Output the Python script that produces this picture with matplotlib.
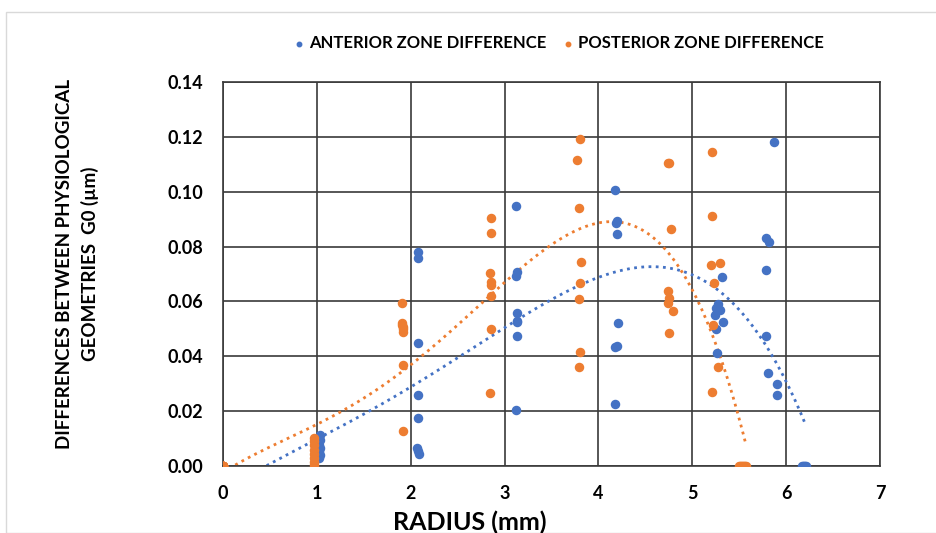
import numpy as np
import matplotlib.pyplot as plt
from matplotlib.patches import Rectangle

# anterior zone (blue)
ant_x = [0, 1.03, 1.03, 1.02, 1.03, 1.02, 1.03, 1.02, 1.02,
         2.08, 2.08, 2.08, 2.08, 2.08, 2.07, 2.08, 2.09,
         3.12, 3.13, 3.12, 3.13, 3.13, 3.13, 3.12, 3.13,
         4.18, 4.20, 4.19, 4.20, 4.21, 4.18, 4.20, 4.18,
         5.32, 5.25, 5.29, 5.27, 5.24, 5.33, 5.25, 5.26,
         5.87, 5.78, 5.82, 5.78, 5.78, 5.81, 5.90, 5.90,
         6.17, 6.18, 6.19, 6.20, 6.21]
ant_y = [0, 0.0113, 0.0095, 0.0078, 0.0065, 0.0050, 0.0040, 0.0028, 0.0060,
         0.0781, 0.0760, 0.0447, 0.0259, 0.0176, 0.0067, 0.0055, 0.0042,
         0.0949, 0.0708, 0.0693, 0.0557, 0.0526, 0.0474, 0.0205, 0.0530,
         0.1006, 0.0893, 0.0885, 0.0845, 0.0522, 0.0433, 0.0436, 0.0226,
         0.0690, 0.0577, 0.0569, 0.0590, 0.0551, 0.0526, 0.0500, 0.0413,
         0.1182, 0.0830, 0.0818, 0.0715, 0.0474, 0.0340, 0.0298, 0.0259,
         0, 0, 0, 0, 0]

# posterior zone (orange)
post_x = [0, 0, 0, 0, 0, 0, 0, 0,
          0.97, 0.97, 0.97, 0.97, 0.97, 0.97, 0.97, 0.97,
          1.91, 1.91, 1.92, 1.92, 1.92, 1.92, 1.92, 1.91,
          2.86, 2.86, 2.85, 2.86, 2.86, 2.86, 2.86, 2.85,
          3.80, 3.77, 3.79, 3.81, 3.80, 3.79, 3.80, 3.79,
          4.74, 4.75, 4.77, 4.74, 4.75, 4.74, 4.79, 4.75,
          5.21, 5.21, 5.20, 5.29, 5.23, 5.22, 5.27, 5.21,
          5.50, 5.51, 5.52, 5.53, 5.54, 5.55, 5.56, 5.57]
post_y = [0, 0, 0, 0, 0, 0, 0, 0,
          0.0102, 0.0090, 0.0075, 0.0060, 0.0045, 0.0030, 0.0015, 0.0004,
          0.0595, 0.0522, 0.0506, 0.0487, 0.0368, 0.0128, 0.0500, 0.0515,
          0.0903, 0.0851, 0.0703, 0.0672, 0.0660, 0.0621, 0.0500, 0.0265,
          0.1192, 0.1116, 0.0939, 0.0743, 0.0666, 0.0609, 0.0415, 0.0361,
          0.1106, 0.1103, 0.0864, 0.0639, 0.0611, 0.0593, 0.0566, 0.0486,
          0.1144, 0.0911, 0.0733, 0.0739, 0.0666, 0.0514, 0.0362, 0.0269,
          0, 0, 0, 0, 0, 0, 0, 0]

blue = '#4472C4'
orange = '#ED7D31'
font = ['Lato', 'DejaVu Sans']

fig = plt.figure(figsize=(9.36, 5.33), dpi=100)
ax = fig.add_axes([0.2382, 0.1257, 0.7020, 0.7205])

# light chart border
fig.patches.append(Rectangle((6/936, 0), 1, 1 - 12/533, transform=fig.transFigure,
                             fill=False, edgecolor='#d9d9d9', lw=1, zorder=0))

ax.scatter(ant_x, ant_y, s=34, color=blue, zorder=3, label='ANTERIOR ZONE DIFFERENCE')
ax.scatter(post_x, post_y, s=34, color=orange, zorder=4, label='POSTERIOR ZONE DIFFERENCE')

# polynomial trendlines
for xs, ys, c in [(ant_x, ant_y, blue), (post_x, post_y, orange)]:
    p = np.polyfit(xs, ys, 4)
    xx = np.linspace(0, max(xs), 200)
    ax.plot(xx, np.polyval(p, xx), color=c, lw=2, linestyle=(0, (1, 1.6)), zorder=2)

ax.set_xlim(0, 7)
ax.set_ylim(0, 0.14)
ax.set_xticks(np.arange(0, 8, 1))
ax.set_yticks(np.arange(0, 0.141, 0.02))
ax.set_yticklabels(['%.2f' % v for v in np.arange(0, 0.141, 0.02)])
ax.grid(True, color='#3a3a3a', lw=1.2)
ax.set_axisbelow(True)
for s in ax.spines.values():
    s.set_color('#3a3a3a')
    s.set_linewidth(1.2)
ax.tick_params(length=0, pad=14, labelsize=13)
for t in ax.get_xticklabels() + ax.get_yticklabels():
    t.set_fontweight('bold')
    t.set_family(font)

fig.text(0.502, 0.006, 'RADIUS (mm)', ha='center', va='baseline', fontsize=18,
         fontweight='bold', family=font)
fig.text(0.083, 0.505, 'DIFFERENCES BETWEEN PHYSIOLOGICAL\nGEOMETRIES  G0 (µm)',
         rotation=90, ha='center', va='center', fontsize=13.5, fontweight='bold',
         family=font, linespacing=1.5, multialignment='center')

fig.legend(loc='center', bbox_to_anchor=(0.595, 1 - 43/533), ncol=2, frameon=False,
           prop={'family': font, 'weight': 'bold', 'size': 12}, handletextpad=0.1,
           columnspacing=0.8, markerscale=0.55, handlelength=1.0)

plt.savefig('out.png', dpi=100)
